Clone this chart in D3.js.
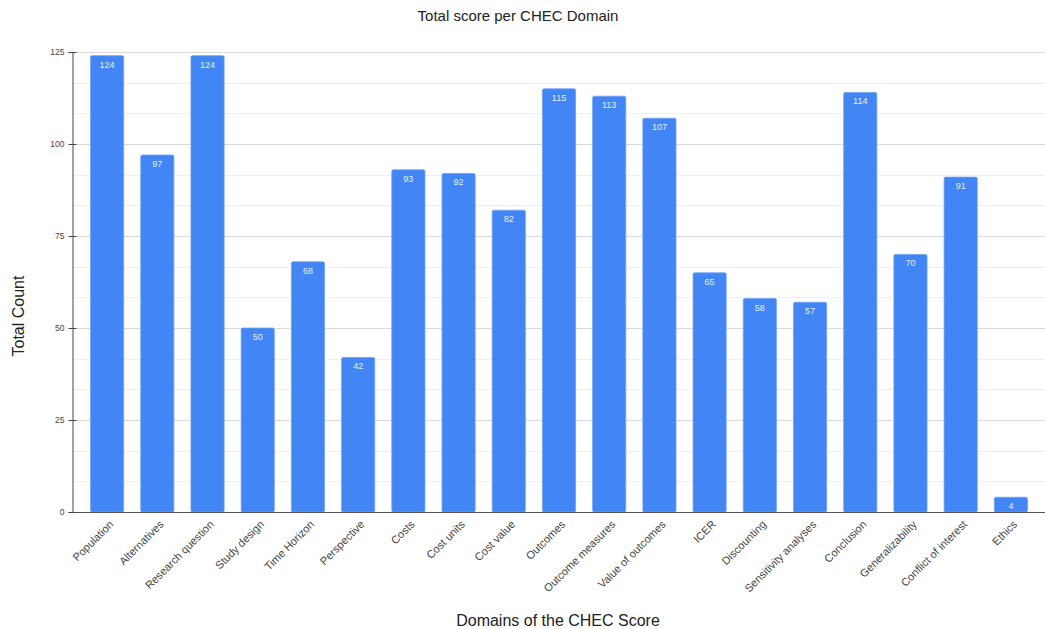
<!DOCTYPE html>
<html>
<head>
<meta charset="utf-8">
<script src="https://cdn.jsdelivr.net/npm/d3@7"></script>
<style>
  html, body { margin: 0; padding: 0; background: #fff; }
  svg { display: block; font-family: "Liberation Sans", Arial, sans-serif; }
</style>
</head>
<body>
<svg id="chart" width="1045" height="629"></svg>
<script>
// CHEC domains and their total counts
const domains = [
  "Population", "Alternatives", "Research question", "Study design", "Time Horizon",
  "Perspective", "Costs", "Cost units", "Cost value", "Outcomes", "Outcome measures",
  "Value of outcomes", "ICER", "Discounting", "Sensitivity analyses", "Conclusion",
  "Generalizability", "Conflict of interest", "Ethics"
];
const totals = [124, 97, 124, 50, 68, 42, 93, 92, 82, 115, 113, 107, 65, 58, 57, 114, 70, 91, 4];
const yTicks = [0, 25, 50, 75, 100, 125];
const chartTitle = "Total score per CHEC Domain";
const xTitle = "Domains of the CHEC Score";
const yTitle = "Total Count";

(function draw() {
  const svg = d3.select("#chart");
  const plotLeft = 72, plotRight = 1045, plotTop = 52, plotBottom = 512;

  const y = d3.scaleLinear().domain([0, 125]).range([plotBottom, plotTop]);
  const x = d3.scaleBand().domain(domains).range([82, 1036]).paddingInner(0.34).paddingOuter(0.17);

  // minor gridlines (thirds between major ticks)
  const minor = d3.range(0, 125, 25 / 3).filter((v, i) => i % 3 !== 0);
  svg.append("g").selectAll("line").data(minor).join("line")
    .attr("x1", plotLeft).attr("x2", plotRight)
    .attr("y1", d => Math.round(y(d)) + 0.5).attr("y2", d => Math.round(y(d)) + 0.5)
    .attr("stroke", "#efefef").attr("stroke-width", 1);

  // major gridlines
  svg.append("g").selectAll("line").data(yTicks.filter(d => d > 0)).join("line")
    .attr("x1", plotLeft).attr("x2", plotRight)
    .attr("y1", d => Math.round(y(d)) + 0.5).attr("y2", d => Math.round(y(d)) + 0.5)
    .attr("stroke", "#d9d9d9").attr("stroke-width", 1);

  // bars
  svg.append("g").selectAll("rect").data(domains).join("rect")
    .attr("x", d => x(d))
    .attr("y", (d, i) => y(totals[i]))
    .attr("width", x.bandwidth())
    .attr("height", (d, i) => y(0) - y(totals[i]))
    .attr("rx", 1.5)
    .attr("fill", "#4285f4")
    .attr("stroke", "#6d9ff5").attr("stroke-width", 0.8);

  // value labels inside bar tops
  svg.append("g").selectAll("text").data(domains).join("text")
    .attr("x", d => x(d) + x.bandwidth() / 2)
    .attr("y", (d, i) => y(totals[i]) + 12)
    .attr("text-anchor", "middle")
    .attr("font-size", 9)
    .attr("fill", "#e8efff")
    .text((d, i) => totals[i]);

  // baseline
  svg.append("line")
    .attr("x1", plotLeft).attr("x2", plotRight)
    .attr("y1", Math.round(y(0)) + 0.5).attr("y2", Math.round(y(0)) + 0.5)
    .attr("stroke", "#555").attr("stroke-width", 1.2);

  // y axis
  const yAxis = svg.append("g").attr("transform", `translate(${plotLeft + 0.5},0)`)
    .call(d3.axisLeft(y).tickValues(yTicks).tickSize(4).tickPadding(4).tickFormat(d3.format("d")));
  yAxis.select(".domain").attr("stroke", "#444");
  yAxis.selectAll(".tick line").attr("stroke", "#444").attr("x2", 4).attr("x1", -4);
  yAxis.selectAll(".tick text").attr("font-size", 8.5).attr("fill", "#444")
    .attr("font-family", "Liberation Sans, Arial, sans-serif");

  // x axis category labels
  const xAxis = svg.append("g").attr("transform", `translate(0,${plotBottom})`)
    .call(d3.axisBottom(x).tickSize(0).tickPadding(0));
  xAxis.select(".domain").remove();
  xAxis.selectAll(".tick text")
    .attr("font-size", 11).attr("fill", "#444")
    .attr("font-family", "Liberation Sans, Arial, sans-serif")
    .attr("text-anchor", "end")
    .attr("dy", null)
    .attr("transform", "translate(7,13) rotate(-45)");

  // titles
  svg.append("text").attr("x", 518).attr("y", 21).attr("text-anchor", "middle")
    .attr("font-size", 15).attr("fill", "#222").text(chartTitle);
  svg.append("text").attr("x", 558).attr("y", 626).attr("text-anchor", "middle")
    .attr("font-size", 16).attr("fill", "#222").text(xTitle);
  svg.append("text").attr("transform", "translate(24,316) rotate(-90)").attr("text-anchor", "middle")
    .attr("font-size", 16).attr("fill", "#222").text(yTitle);
})();
</script>
</body>
</html>
